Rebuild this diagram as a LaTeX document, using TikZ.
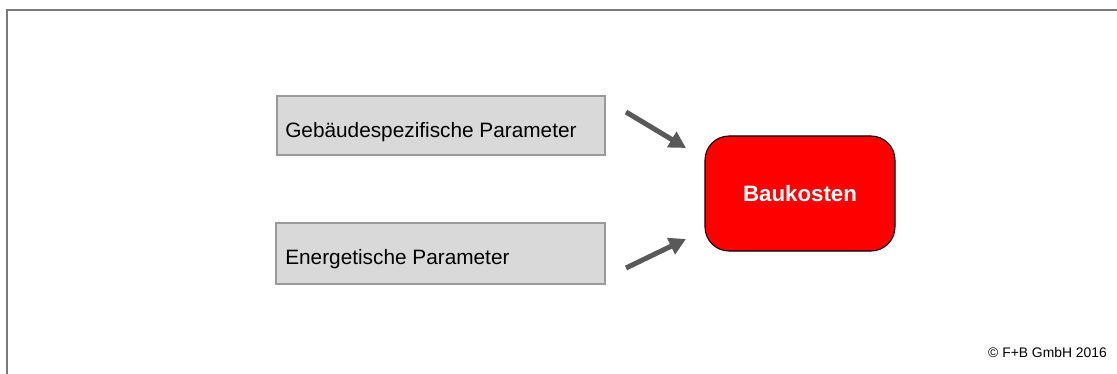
\documentclass[tikz,border=0pt]{standalone}
\usepackage{fontspec}
\setmainfont{Liberation Sans}
\usepackage{tikz}
\usetikzlibrary{positioning}
\usetikzlibrary{arrows.meta}
\definecolor{paramgray}{HTML}{D9D9D9}
\definecolor{paramline}{HTML}{9A9A9A}
\definecolor{arrowgray}{HTML}{595959}
\definecolor{framegray}{HTML}{7A7A7A}
\tikzset{
	parambox/.style={draw=paramline, fill=paramgray, line width=0.8pt, inner sep=0pt},
	paramtext/.style={anchor=west, inner sep=0pt, font=\fontsize{15.6}{18}\selectfont},
	costbox/.style={draw=black, fill=red, line width=0.8pt, rounded corners=18pt, inner sep=0pt,
		minimum width=142.5pt, minimum height=86.25pt, text=white, font=\fontsize{16.7}{20}\selectfont\bfseries},
	influence/.style={draw=arrowgray, line width=3.75pt, -{Triangle[length=12.5pt, width=13pt]}}
}
\begin{document}
\begin{tikzpicture}[x=0.75pt, y=-0.75pt]
			\useasboundingbox (0,0) rectangle (1117,374);
			\draw[framegray, line width=1.5pt] (1117,10) -- (7,10) -- (7,374); %only top and left edge visible
			\node at (441,125.5) (gebbox) [parambox, minimum width=246pt, minimum height=44.25pt] {};
			\node at (440.5,253.5) (enebox) [parambox, minimum width=246.75pt, minimum height=45.75pt] {};
			\node at (285,132) (geb) [paramtext] {Gebäudespezifische Parameter};
			\node at (285,259) (ene) [paramtext] {Energetische Parameter};
			\node at (800,193.5) (kosten) [costbox] {Baukosten};
			\coordinate (gebout) at (626,112); \coordinate (gebin) at (686,148);
			\coordinate (eneout) at (626,268); \coordinate (enein) at (686,239);
			\draw[influence] (gebout) -- (gebin); \draw[influence] (eneout) -- (enein);
			\node at (1107,353) (copy) [anchor=east, inner sep=0pt, font=\fontsize{10.4}{12}\selectfont] {© F+B GmbH 2016};
			\end{tikzpicture}
\end{document}
